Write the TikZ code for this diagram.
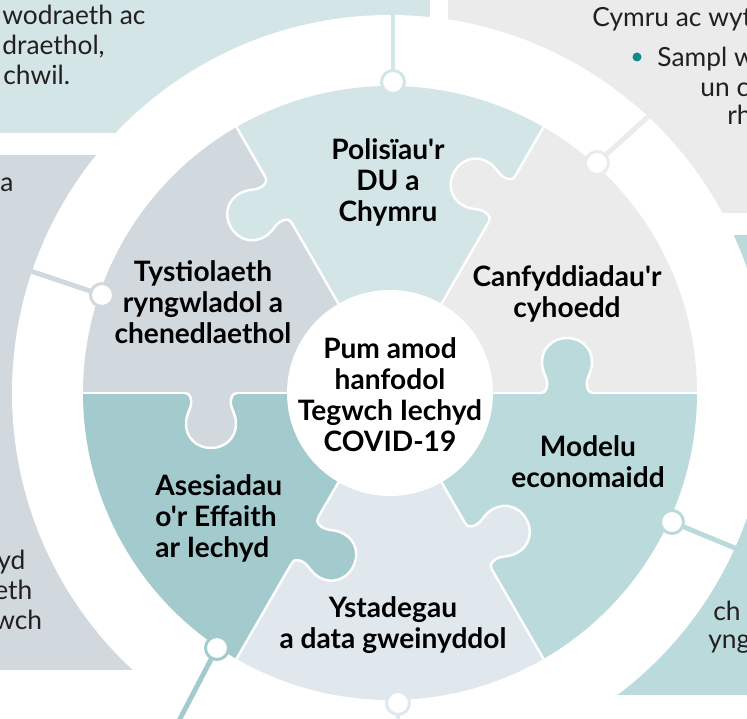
\documentclass[tikz,border=0pt]{standalone}
\usepackage{fontspec}
\setmainfont{Lato}[Ligatures=TeXOff]
\tikzset{
  piece line/.style={white, line width=1.4pt},
  conn line/.style={line width=2.8pt},
  conn dot/.style={circle, fill=white, line width=1.7pt, minimum size=0.46cm, inner sep=0pt},
  piece label/.style={font=\bfseries\fontsize{16}{17.6}\selectfont, align=center, text=black, inner sep=0pt},
  side text/.style={font=\fontsize{15}{17}\selectfont, text=textgray, inner sep=0pt, anchor=base west},
}
\newcommand{\knobshape}{(-26,0) .. controls (-21,0) and (-19,6) .. (-20,12)
      .. controls (-21,17) and (-25,22) .. (-25,31)
      .. controls (-25,45) and (-14,55) .. (0,55)
      .. controls (14,55) and (25,45) .. (25,31)
      .. controls (25,22) and (21,17) .. (20,12)
      .. controls (19,6) and (21,0) .. (26,0)}
\newcommand{\knob}[3]{%
  \begin{scope}[rotate=#1, shift={(#2,0)}]
    \fill[#3] (-26,-3) -- \knobshape -- (26,-3) -- cycle;
    \draw[piece line] \knobshape;
  \end{scope}}
\begin{document}
\begin{tikzpicture}[x=0.02cm, y=0.02cm]
    \definecolor{polcol}{HTML}{D3E5E6}
    \definecolor{cancol}{HTML}{EBEBEB}
    \definecolor{modcol}{HTML}{BBDADC}
    \definecolor{ystcol}{HTML}{E0E7ED}
    \definecolor{asecol}{HTML}{A3CACC}
    \definecolor{tyscol}{HTML}{D1D8DE}
    \definecolor{textgray}{HTML}{231F20}
    \definecolor{bulletcol}{HTML}{12898A}
    \clip (-390,-326) rectangle (357,393);
    \fill[polcol] (-400,260) rectangle (40,400);
    \fill[cancol] (58,180) rectangle (400,400);
    \fill[tyscol] (-400,-277) rectangle (-150,238);
    \fill[modcol] (170,-302) rectangle (400,158);
    \fill[white] (0,0) circle (378);
    \coordinate (dotPol) at (3,311);     \coordinate (endPol) at (3,420);
    \coordinate (dotCan) at (207,230);   \coordinate (endCan) at (313,326);
    \coordinate (dotTys) at (-288,98);   \coordinate (endTys) at (-392,133);
    \coordinate (dotMod) at (282,-129);  \coordinate (endMod) at (364,-163);
    \coordinate (dotAse) at (-173,-255); \coordinate (endAse) at (-230,-364);
    \coordinate (dotYst) at (8,-310);    \coordinate (endYst) at (8,-400);
    \draw[conn line, polcol] (dotPol) -- (endPol);
    \draw[conn line, cancol] (dotCan) -- (endCan);
    \draw[conn line, tyscol] (dotTys) -- (endTys);
    \draw[conn line, modcol] (dotMod) -- (endMod);
    \draw[conn line, asecol] (dotAse) -- (endAse);
    \draw[conn line, ystcol] (dotYst) -- (endYst);
    \fill[cancol] (0,0) -- (0:307) arc[start angle=0, end angle=60, radius=307] -- cycle;
    \fill[polcol] (0,0) -- (60:307) arc[start angle=60, end angle=120, radius=307] -- cycle;
    \fill[tyscol] (0,0) -- (120:307) arc[start angle=120, end angle=180, radius=307] -- cycle;
    \fill[asecol] (0,0) -- (180:307) arc[start angle=180, end angle=240, radius=307] -- cycle;
    \fill[ystcol] (0,0) -- (240:307) arc[start angle=240, end angle=300, radius=307] -- cycle;
    \fill[modcol] (0,0) -- (300:307) arc[start angle=300, end angle=360, radius=307] -- cycle;
    \foreach \a in {0,60,...,300}
      \draw[piece line] (0,0) -- (\a:307);
    \knob{0}{177}{modcol}
    \knob{60}{224}{cancol}
    \knob{120}{223}{polcol}
    \knob{180}{179}{tyscol}
    \knob{240}{170}{asecol}
    \knob{300}{177}{ystcol}
    \fill[white] (0,0) circle (103);
    \node[conn dot, draw=polcol] (cPol) at (dotPol) {};
    \node[conn dot, draw=cancol] (cCan) at (dotCan) {};
    \node[conn dot, draw=tyscol] (cTys) at (dotTys) {};
    \node[conn dot, draw=modcol] (cMod) at (dotMod) {};
    \node[conn dot, draw=asecol] (cAse) at (dotAse) {};
    \node[conn dot, draw=ystcol] (cYst) at (dotYst) {};
    \node[piece label] (centre) at (0,-2) {Pum amod\\hanfodol\\Tegwch Iechyd\\COVID-19};
    \node[piece label] (polisi) at (-2,211) {Polisïau'r\\DU a\\Chymru};
    \node[piece label] (canfydd) at (177,99) {Canfyddiadau'r\\cyhoedd};
    \node[piece label] (modelu) at (198,-69) {Modelu\\economaidd};
    \node[piece label] (ystad) at (3,-232) {Ystadegau\\a data gweinyddol};
    \node[piece label, align=left, anchor=west] (asesiad) at (-235,-125) {Asesiadau\\o'r Effaith\\ar Iechyd};
    \node[piece label] (tystiol) at (-187,91) {Tystiolaeth\\ryngwladol a\\chenedlaethol};
    \node[side text] (tlOne) at (-388,368) {wodraeth ac};
    \node[side text] (tlTwo) at (-388,338) {draethol,};
    \node[side text] (tlThree) at (-387,308) {chwil.};
    \node[side text] (trOne) at (202,366) {Cymru ac wyth};
    \node[circle, fill=bulletcol, inner sep=0pt, minimum size=0.18cm] (bullet) at (247,336) {};
    \node[side text] (trTwo) at (267,326) {Sampl w};
    \node[side text] (trThree) at (310,296) {un c};
    \node[side text] (trFour) at (337,268) {rh};
    \node[side text] (lOne) at (-390,201) {a};
    \node[side text] (lTwo) at (-393,-177) {yd};
    \node[side text] (lThree) at (-396,-207) {eth};
    \node[side text] (lFour) at (-396,-237) {wch};
    \node[side text] (rOne) at (323,-228) {ch};
    \node[side text] (rTwo) at (318,-256) {yng};
\end{tikzpicture}
\end{document}
